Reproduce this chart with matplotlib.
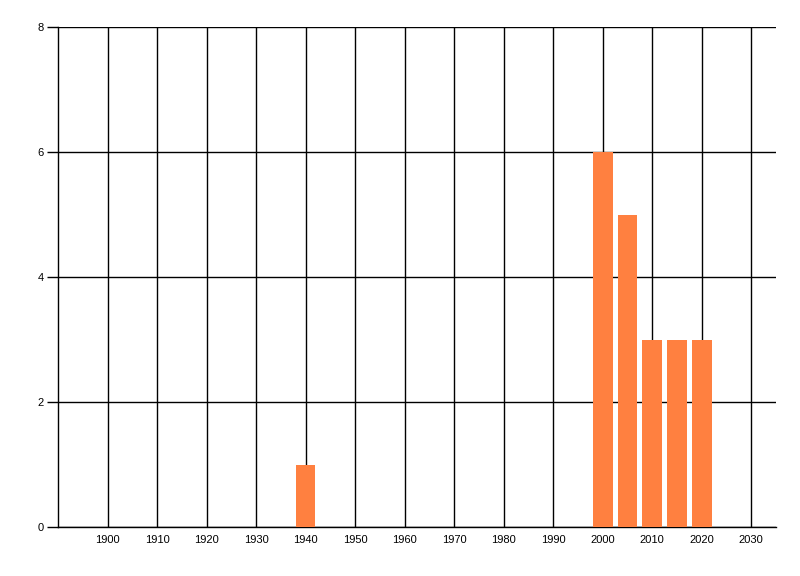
import matplotlib
matplotlib.use('Agg')
import matplotlib.pyplot as plt

years = [1940, 2000, 2005, 2010, 2015, 2020]
counts = [1, 6, 5, 3, 3, 3]
xticks = list(range(1900, 2031, 10))
yticks = [0, 2, 4, 6, 8]

BAR_COLOR = '#FF8040'

plt.rcParams['font.family'] = ['Liberation Sans', 'DejaVu Sans']

fig = plt.figure(figsize=(8, 5.76), dpi=100)
ax = fig.add_axes([0.0725, 0.085, 0.8975, 0.868])

ax.bar(years, counts, width=4, color=BAR_COLOR, zorder=3)

ax.set_xlim(1890, 2035)
ax.set_ylim(0, 8)
ax.set_xticks(xticks)
ax.set_yticks(yticks)
ax.grid(True, color='black', linewidth=1, zorder=1)
ax.set_axisbelow(True)

for side in ('top', 'right'):
    ax.spines[side].set_visible(False)
for side in ('left', 'bottom'):
    ax.spines[side].set_linewidth(1)

ax.tick_params(axis='y', length=8, width=1, labelsize=8, pad=2)
ax.tick_params(axis='x', length=0, labelsize=8, pad=6)

fig.savefig('out.png', dpi=100)
